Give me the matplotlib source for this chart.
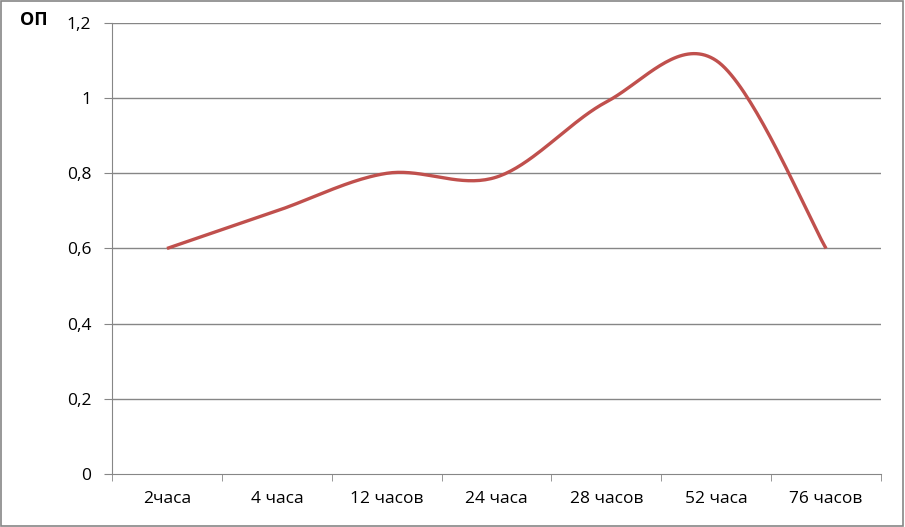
import matplotlib
matplotlib.use('Agg')

import matplotlib.pyplot as plt
import numpy as np
from matplotlib.patches import Rectangle

categories = ["2часа", "4 часа", "12 часов", "24 часа", "28 часов", "52 часа", "76 часов"]
values = [0.6, 0.7, 0.8, 0.79, 0.99, 1.10, 0.6]
y_ticks = [0, 0.2, 0.4, 0.6, 0.8, 1.0, 1.2]
y_labels = ["0", "0,2", "0,4", "0,6", "0,8", "1", "1,2"]


def smooth(xs, ys, n=40):
    """Excel-style smoothed line (Catmull-Rom via cubic Bezier)."""
    pts = np.column_stack([xs, ys]).astype(float)
    out = []
    for i in range(len(pts) - 1):
        p0 = pts[i - 1] if i > 0 else pts[i]
        p1 = pts[i]
        p2 = pts[i + 1]
        p3 = pts[i + 2] if i + 2 < len(pts) else pts[i + 1]
        c1 = p1 + (p2 - p0) / 6
        c2 = p2 - (p3 - p1) / 6
        t = np.linspace(0, 1, n)[:, None]
        seg = ((1 - t) ** 3) * p1 + 3 * ((1 - t) ** 2) * t * c1 + 3 * (1 - t) * t ** 2 * c2 + t ** 3 * p2
        out.append(seg if i == 0 else seg[1:])
    out = np.vstack(out)
    return out[:, 0], out[:, 1]


plt.rcParams['font.family'] = ['Open Sans', 'DejaVu Sans']

fig = plt.figure(figsize=(9.05, 5.27), dpi=100)
ax = fig.add_axes([0.1238, 0.1006, 0.8497, 0.8558])

x = np.arange(len(categories))
sx, sy = smooth(x, values)
ax.plot(sx, sy, color="#C0504D", linewidth=2.4, solid_capstyle="butt", zorder=3)

grid_color = "#868686"
ax.set_xlim(-0.5, len(categories) - 0.5)
ax.set_ylim(0, 1.2)
ax.set_yticks(y_ticks)
ax.set_yticklabels(y_labels, fontsize=12.5)
for v in y_ticks[1:]:
    ax.axhline(v, color=grid_color, linewidth=1.0, zorder=1)

ax.set_xticks(x)
ax.set_xticklabels(categories, fontsize=12.5)
ax.set_xticks(np.arange(-0.5, len(categories)), minor=True)
ax.tick_params(axis="x", which="major", length=0, pad=12)
ax.tick_params(axis="x", which="minor", length=5, color=grid_color, direction="out")
ax.tick_params(axis="y", length=6, color=grid_color, pad=9)

for side in ["top", "right"]:
    ax.spines[side].set_visible(False)
for side in ["left", "bottom"]:
    ax.spines[side].set_color(grid_color)

fig.text(0.022, 0.962, "ОП", fontsize=13, fontweight="bold", ha="left", va="center")

fig.patches.append(Rectangle((0.001, 0.002), 0.997, 0.996, transform=fig.transFigure,
                             fill=False, edgecolor=grid_color, linewidth=1.2))

fig.savefig("out.png", dpi=100)
plt.close(fig)
